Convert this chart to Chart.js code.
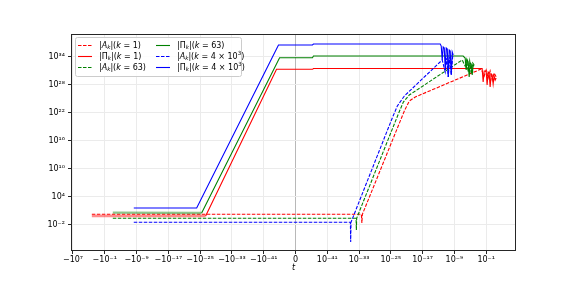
<!DOCTYPE html>
<html>
<head>
<meta charset="utf-8">
<script src="https://cdn.jsdelivr.net/npm/chart.js@4.4.1/dist/chart.umd.min.js"></script>
<style>
  html, body { margin: 0; padding: 0; background: #fff; }
</style>
</head>
<body>
<canvas id="fieldChart" width="574" height="287"></canvas>
<script>
// ---- data (t, |value|) ----
const xTicks = [-1e7, -1e-1, -1e-9, -1e-17, -1e-25, -1e-33, -1e-41, 0, 1e-41, 1e-33, 1e-25, 1e-17, 1e-9, 1e-1];
const xTickLabels = ['−10⁷', '−10⁻¹', '−10⁻⁹', '−10⁻¹⁷', '−10⁻²⁵', '−10⁻³³', '−10⁻⁴¹', '0',
                     '10⁻⁴¹', '10⁻³³', '10⁻²⁵', '10⁻¹⁷', '10⁻⁹', '10⁻¹'];
const yTicks = [1e-2, 1e4, 1e10, 1e16, 1e22, 1e28, 1e34];
const yTickLabels = ['10⁻²', '10⁴', '10¹⁰', '10¹⁶', '10²²', '10²⁸', '10³⁴'];

const seriesSymbols = ['A', 'Π', 'A', 'Π', 'A', 'Π'];
const seriesK = ['1', '1', '63', '63', '4 × 10^3', '4 × 10^3'];

const tAK1 = [-1.8e2, 3.8e-33, 5.1e-33, 6.8e-33, 2.5e-22, 4.4e-21, 1.4e-19, 5.4e-3, 3.1e-2, 9.8e-2, 0.31, 0.98, 3.2, 10, 32];
const yAK1 = [1.9, 1.9, 2.7e-2, 1.9, 2.5e22, 3.3e24, 2.4e25, 2.3e31, 7.4e29, 1.4e31, 2.8e29, 8.7e30, 1e29, 3.2e30, 4.6e29];

const tPiK1 = [-1.8e2, -4.1e-27, -5.9e-45, 1.9e-45, 3.3e-45, 1.7e-3, 9.5e-3, 1.7e-2, 3.1e-2, 9.8e-2, 0.17, 0.31, 0.55, 0.98, 1.8, 3.2, 5.6, 10, 18, 32];
const yPiK1 = [0.85, 0.85, 2e31, 2e31, 3e31, 3e31, 3e31, 3.9e28, 8.7e30, 8.7e30, 8.9e27, 5.4e30, 3.2e30, 3.4e27, 2e30, 1.2e30, 1.4e28, 7.4e29, 1e29, 2.8e29];

const tAK63 = [-9.5e-4, 1.8e-34, 2.1e-34, 2.5e-34, 7.6e-24, 1.4e-22, 4.4e-21, 9.1e-8, 5.1e-7, 1.2e-6, 2.9e-6, 6.9e-6, 1.7e-5, 4e-5, 9.3e-5];
const yAK63 = [0.27, 0.27, 8.5e-4, 0.27, 5.5e21, 2e24, 6.5e25, 2e33, 1e32, 2e33, 5.4e30, 1.2e33, 2e30, 4.5e32, 1.7e32];

const tPiK63 = [-9.5e-4, -4.2e-26, -1.0e-45, 1.9e-45, 3.3e-45, 9.1e-8, 1.6e-7, 5.1e-7, 9.1e-7, 1.7e-6, 2.9e-6, 5.2e-6, 9.3e-6, 1.7e-5, 3.0e-5, 5.2e-5, 9.3e-5];
const yPiK63 = [4.3, 3.7, 6.1e33, 6.1e33, 1.4e34, 1.4e34, 1.4e34, 5.3e33, 1.4e31, 2e33, 7.4e32, 4.6e29, 4.5e32, 2.8e32, 1.2e30, 1.7e32, 1e32];

const tAK4e3 = [-5.0e-9, 6.6e-36, 7.8e-36, 9.3e-36, 2.3e-25, 4.3e-24, 2.5e-22, 8.5e-13, 4.9e-12, 1.2e-11, 2.8e-11, 6.6e-11, 1.6e-10, 3.7e-10, 6.6e-10];
const yAK4e3 = [3.8e-2, 3.8e-2, 2.3e-6, 3.8e-2, 7.8e20, 2.8e23, 3.9e25, 2e33, 5.4e30, 5.3e33, 4.6e29, 8.7e33, 1.2e30, 1.4e34, 1.4e34];

const tPiK4e3 = [-5.0e-9, -7.4e-25, -1.9e-45, 1.9e-45, 3.3e-45, 1.5e-13, 2.7e-13, 4.8e-13, 8.5e-13, 1.5e-12, 2.8e-12, 4.9e-12, 8.7e-12, 1.6e-11, 2.8e-11, 4.9e-11, 8.7e-11, 1.6e-10, 2.8e-10, 5e-10];
const yPiK4e3 = [44, 44, 3.2e36, 3.2e36, 5.2e36, 5.2e36, 5.2e36, 1.9e36, 2e33, 1.2e36, 7.2e35, 1.4e31, 7.2e35, 4.4e35, 4.6e29, 2.7e35, 1.7e35, 1.2e30, 1e35, 2.3e34];

// ---- symlog x scale (linthresh 1e-48) ----
const LIN_THRESH = 1e-48;
function symlog(t) {
  const a = Math.abs(t);
  if (a < LIN_THRESH) return t / LIN_THRESH;
  return Math.sign(t) * (Math.log10(a / LIN_THRESH) + 1);
}
function symexp(u) {
  const a = Math.abs(u);
  if (a < 1) return u * LIN_THRESH;
  return Math.sign(u) * LIN_THRESH * Math.pow(10, a - 1);
}

class SymlogScale extends Chart.LinearScale {
  determineDataLimits() {
    this.min = this.options.min;
    this.max = this.options.max;
  }
  buildTicks() {
    return this.options.tickValues.map(v => ({ value: v }));
  }
  getPixelForValue(value) {
    const a = symlog(this.min), b = symlog(this.max);
    return this.getPixelForDecimal((symlog(value) - a) / (b - a));
  }
  getValueForPixel(pixel) {
    const a = symlog(this.min), b = symlog(this.max);
    return symexp(a + this.getDecimalForPixel(pixel) * (b - a));
  }
}
SymlogScale.id = 'symlog';
SymlogScale.defaults = {};
Chart.register(SymlogScale);

// ---- styling ----
const FONT = '"DejaVu Sans", sans-serif';
const colors = ['#ff0000', '#ff0000', '#008000', '#008000', '#0000ff', '#0000ff'];
const dashed = [true, false, true, false, true, false];
const seriesT = [tAK1, tPiK1, tAK63, tPiK63, tAK4e3, tPiK4e3];
const seriesY = [yAK1, yPiK1, yAK63, yPiK63, yAK4e3, yPiK4e3];

function plainLabel(i) {
  return '|' + seriesSymbols[i] + 'ₖ|(k = ' + seriesK[i].replace('^3', '³') + ')';
}

const datasets = seriesT.map((ts, i) => ({
  label: plainLabel(i),
  data: ts.map((t, j) => ({ x: t, y: seriesY[i][j] })),
  borderColor: colors[i],
  borderWidth: 1.1,
  borderDash: dashed[i] ? [3.5, 1.5] : [],
  pointRadius: 0,
  tension: 0,
  fill: false,
  order: 5 - i,
  segment: (!dashed[i] && i < 4) ? {
    borderWidth: c => c.p0DataIndex === 0 ? 2.4 : 1.1,
    borderColor: c => c.p0DataIndex === 0 ? (i === 1 ? 'rgba(255,0,0,0.45)' : 'rgba(0,128,0,0.45)') : colors[i]
  } : undefined
}));

// mathtext-like label drawing
function labelParts(i) {
  const parts = [['|', 'n'], [seriesSymbols[i], seriesSymbols[i] === 'A' ? 'i' : 'n'], ['k', 'sub'],
                 ['|(', 'n'], ['k', 'i'], [' = ', 'n']];
  const k = seriesK[i];
  if (k.includes('^')) {
    const [base, exp] = k.split('^');
    parts.push([base, 'n'], [exp, 'sup']);
  } else {
    parts.push([k, 'n']);
  }
  parts.push([')', 'n']);
  return parts;
}
function drawMath(ctx, parts, x, y) {
  let cx = x;
  for (const [txt, st] of parts) {
    let size = 8, dy = 0, italic = st === 'i';
    if (st === 'sub') { size = 5.6; dy = 2; italic = true; }
    if (st === 'sup') { size = 5.6; dy = -3; }
    ctx.font = (italic ? 'italic ' : '') + size + 'px ' + FONT;
    ctx.fillText(txt, cx, y + dy);
    cx += ctx.measureText(txt).width;
  }
}

const framePlugin = {
  id: 'frame',
  afterDatasetsDraw(chart) {
    const { ctx, chartArea: a } = chart;
    ctx.save();
    ctx.strokeStyle = '#262626';
    ctx.lineWidth = 1;
    ctx.strokeRect(Math.round(a.left) + 0.5, Math.round(a.top) + 0.5,
                   Math.round(a.right - a.left) - 1, Math.round(a.bottom - a.top) - 1);
    ctx.restore();
  }
};

const legendPlugin = {
  id: 'mplLegend',
  afterDraw(chart) {
    const ctx = chart.ctx;
    const box = { x: 75.5, y: 37.5, w: 166, h: 39 };
    ctx.save();
    ctx.fillStyle = 'rgba(255,255,255,0.85)';
    ctx.strokeStyle = '#cccccc';
    ctx.lineWidth = 1;
    ctx.beginPath();
    ctx.roundRect(box.x, box.y, box.w, box.h, 2);
    ctx.fill();
    ctx.stroke();
    const cols = [{ hx: 78, tx: 99 }, { hx: 156, tx: 177 }];
    const rows = [45, 56, 67];
    ctx.textBaseline = 'middle';
    ctx.fillStyle = '#000';
    for (let i = 0; i < 6; i++) {
      const c = cols[Math.floor(i / 3)];
      const y = rows[i % 3];
      ctx.save();
      ctx.strokeStyle = colors[i];
      ctx.lineWidth = 1.1;
      ctx.setLineDash(dashed[i] ? [3.5, 1.5] : []);
      ctx.beginPath();
      ctx.moveTo(c.hx, y + 0.5);
      ctx.lineTo(c.hx + 14, y + 0.5);
      ctx.stroke();
      ctx.restore();
      drawMath(ctx, labelParts(i), c.tx, y + 0.5);
    }
    ctx.restore();
  }
};

const ctx = document.getElementById('fieldChart').getContext('2d');
new Chart(ctx, {
  type: 'line',
  data: { datasets },
  options: {
    responsive: false,
    animation: false,
    devicePixelRatio: 1,
    layout: { padding: { left: 0, top: 34, right: 58, bottom: 0 } },
    plugins: { legend: { display: false }, tooltip: { enabled: false } },
    scales: {
      x: {
        type: 'symlog',
        position: 'bottom',
        min: -3.16e7,
        max: 3.16e6,
        tickValues: xTicks,
        afterFit: s => { s.height = 36; },
        border: { display: false },
        grid: {
          color: c => (c.tick && c.tick.value === 0) ? '#b8b8b8' : '#ebebeb',
          lineWidth: 1,
          tickColor: '#262626',
          tickLength: 3
        },
        ticks: {
          autoSkip: false,
          maxRotation: 0,
          padding: 1,
          color: '#000',
          font: { family: FONT, size: 8 },
          callback: (v, i) => xTickLabels[i]
        },
        title: {
          display: true,
          text: 't',
          color: '#000',
          font: { family: FONT, size: 8, style: 'italic' },
          padding: { top: 0, bottom: 14 }
        }
      },
      y: {
        type: 'logarithmic',
        min: 2.7e-8,
        max: 7.2e38,
        afterFit: s => { s.width = 71; },
        afterBuildTicks: s => { s.ticks = yTicks.map(v => ({ value: v })); },
        border: { display: false },
        grid: { color: '#ebebeb', lineWidth: 1, tickColor: '#262626', tickLength: 3 },
        ticks: {
          padding: 3,
          color: '#000',
          font: { family: FONT, size: 8 },
          callback: (v, i) => yTickLabels[i]
        }
      }
    }
  },
  plugins: [framePlugin, legendPlugin]
});
</script>
</body>
</html>
